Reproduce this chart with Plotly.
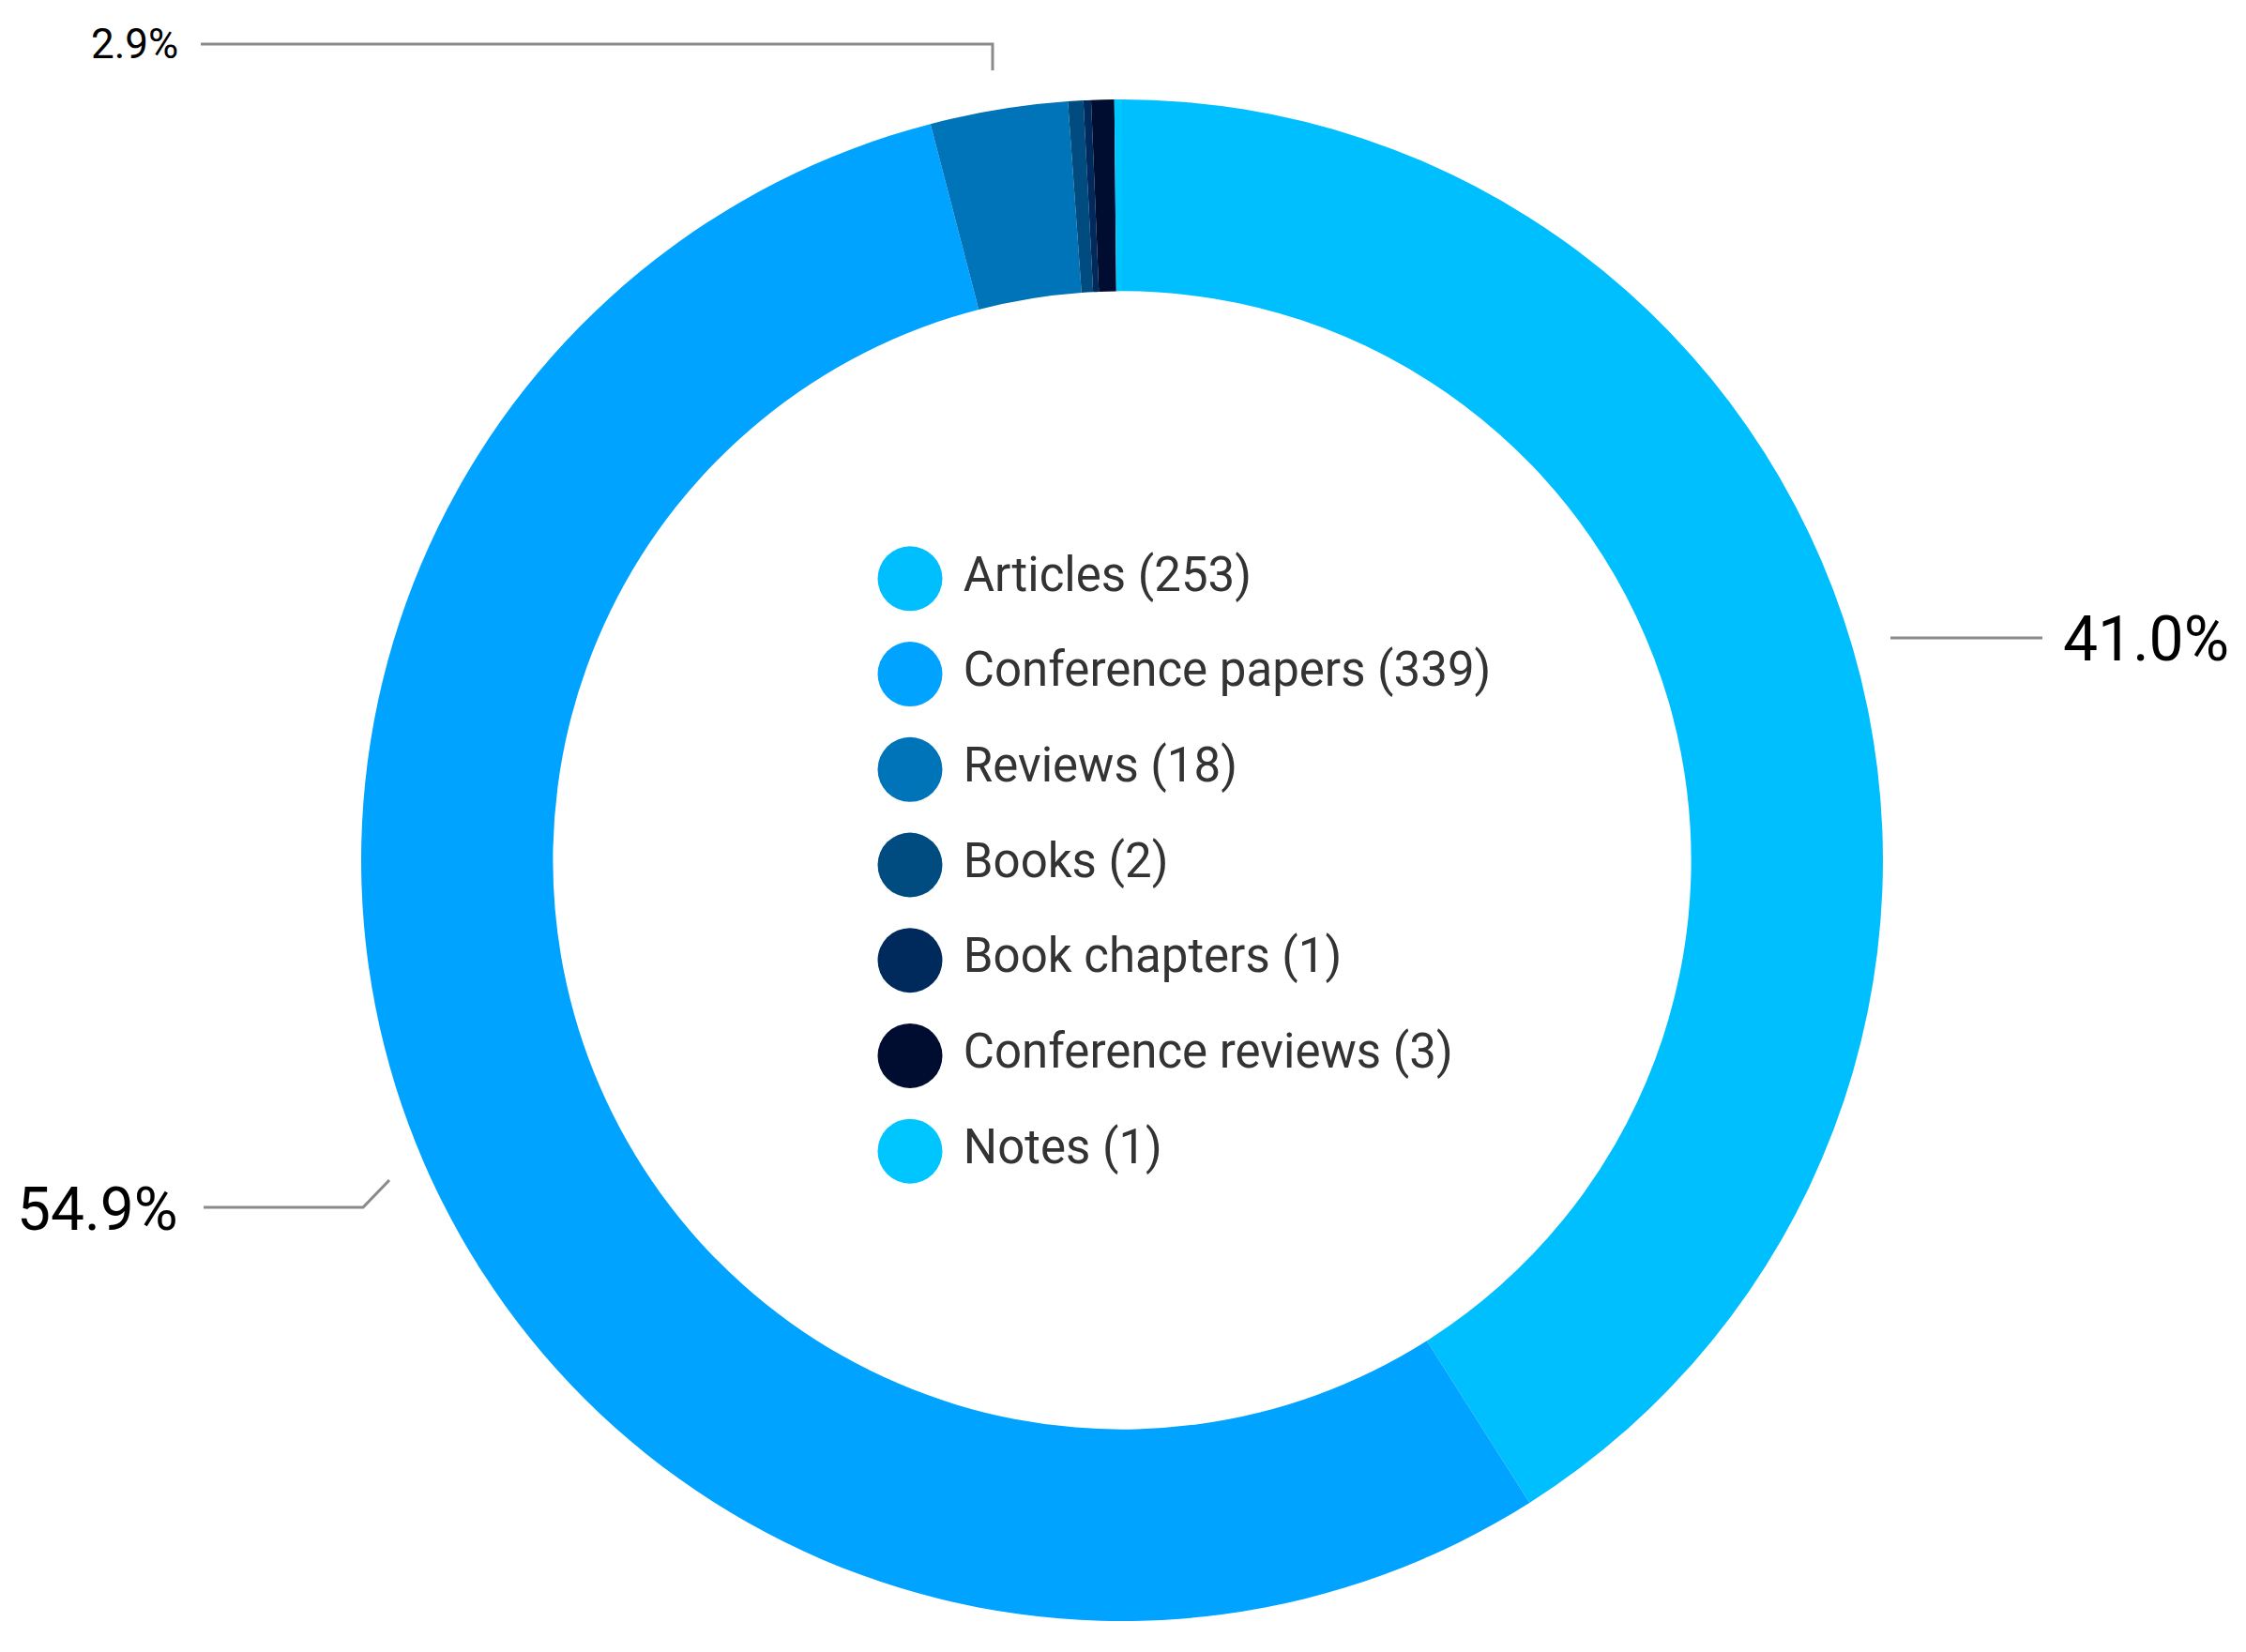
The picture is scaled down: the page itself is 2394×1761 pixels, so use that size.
import plotly.graph_objects as go

# the page body keeps an 8px margin, so the figure is drawn 8px smaller
# and all positions below are given in window pixels
OFF = 8
W, H = 2394 - OFF, 1761 - OFF

# data
labels = ['Articles', 'Conference papers', 'Reviews', 'Books', 'Book chapters', 'Conference reviews', 'Notes']
counts = [253, 339, 18, 2, 1, 3, 1]
colors = ['#00BFFF', '#00A3FF', '#0074B8', '#004B80', '#002A5C', '#000C30', '#00C6FF']

total = sum(counts)
pct = [round(100 * c / total, 1) for c in counts]

FONT = 'Roboto, sans-serif'


def px(x, y):
    # window pixel position -> paper coords
    return (x - OFF) / W, 1 - (y - OFF) / H


fig = go.Figure()

# donut: center (1196, 917), outer radius 811
cx, cy, r = 1196, 917, 811
x0, y0 = px(cx - r, cy + r)
x1, y1 = px(cx + r, cy - r)
fig.add_trace(go.Pie(
    labels=labels, values=counts, hole=0.748, sort=False, direction='clockwise', rotation=0,
    marker=dict(colors=colors, line=dict(width=0)), textinfo='none', hoverinfo='label+value+percent',
    showlegend=False,
    domain=dict(x=[x0, x1], y=[y0, y1]),
))

# legend drawn in the hole as circle markers
fig.add_trace(go.Scatter(
    x=[970] * len(labels), y=labels, mode='markers+text',
    marker=dict(size=69, color=colors, line=dict(width=0)),
    text=[' %s (%d)' % (l, c) for l, c in zip(labels, counts)],
    textposition='middle right', textfont=dict(family=FONT, size=51, color='#333333'),
    showlegend=False, hoverinfo='skip', cliponaxis=False,
))

# percent labels with leader lines
line_style = dict(color='#8a8a8a', width=3)
shapes = []
annotations = []

# Articles
x0, y0 = px(2015, 680)
x1, y1 = px(2177, 680)
shapes.append(dict(type='line', xref='paper', yref='paper', x0=x0, y0=y0, x1=x1, y1=y1, line=line_style))
tx, ty = px(2197, 682)
annotations.append(dict(x=tx, y=ty, xref='paper', yref='paper', text='%.1f%%' % pct[0], showarrow=False,
                        xanchor='left', yanchor='middle', font=dict(family=FONT, size=66, color='black')))

# Conference papers
a = px(415, 1258)
b = px(387, 1287)
c = px(217, 1287)
shapes.append(dict(type='path', xref='paper', yref='paper',
                   path='M %f,%f L %f,%f L %f,%f' % (a[0], a[1], b[0], b[1], c[0], c[1]), line=line_style))
tx, ty = px(192, 1289)
annotations.append(dict(x=tx, y=ty, xref='paper', yref='paper', text='%.1f%%' % pct[1], showarrow=False,
                        xanchor='right', yanchor='middle', font=dict(family=FONT, size=64, color='black')))

# Reviews
a = px(1058, 75)
b = px(1058, 47)
c = px(214, 47)
shapes.append(dict(type='path', xref='paper', yref='paper',
                   path='M %f,%f L %f,%f L %f,%f' % (a[0], a[1], b[0], b[1], c[0], c[1]), line=line_style))
tx, ty = px(192, 47)
annotations.append(dict(x=tx, y=ty, xref='paper', yref='paper', text='%.1f%%' % pct[2], showarrow=False,
                        xanchor='right', yanchor='middle', font=dict(family=FONT, size=44, color='black')))

_, ybot = px(0, 1278)
_, ytop = px(0, 566)
fig.update_layout(
    width=W, height=H, autosize=False,
    margin=dict(l=0, r=0, t=0, b=0),
    paper_bgcolor='white', plot_bgcolor='rgba(0,0,0,0)',
    xaxis=dict(range=[OFF, OFF + W], domain=[0, 1], visible=False, fixedrange=True),
    yaxis=dict(type='category', categoryorder='array', categoryarray=labels, range=[6.5, -0.5],
               domain=[ybot, ytop], visible=False, fixedrange=True),
    shapes=shapes, annotations=annotations,
    font=dict(family=FONT),
)

fig.write_html("out.html")
